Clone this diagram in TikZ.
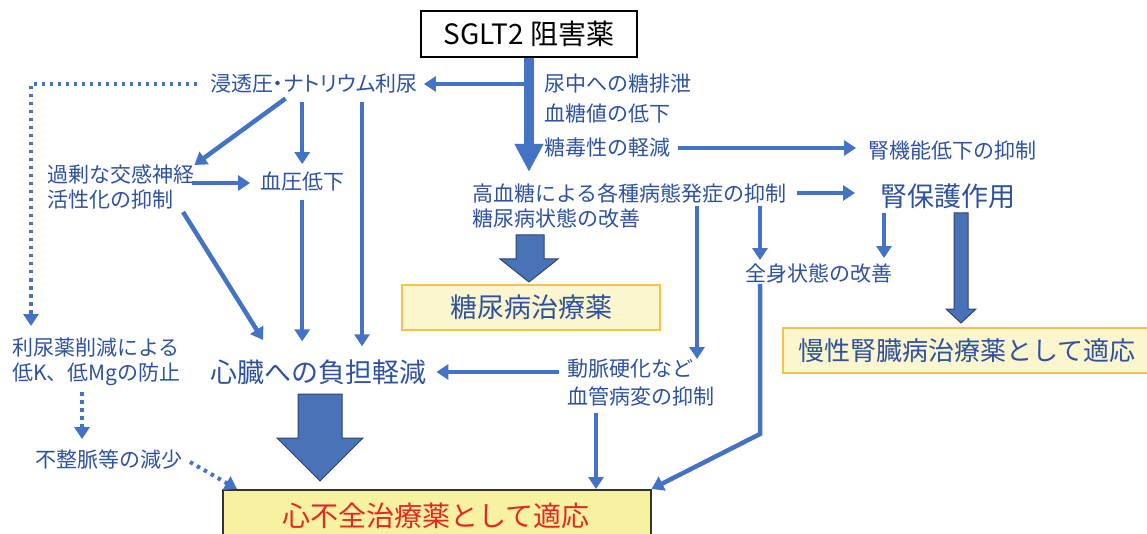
\documentclass[tikz,border=0pt]{standalone}
\usepackage{fontspec}
\setmainfont{Noto Sans CJK JP}
\usetikzlibrary{arrows.meta,calc}
\definecolor{ab}{RGB}{68,114,196}
\definecolor{tb}{RGB}{47,82,160}
\definecolor{bf}{RGB}{74,114,182}
\definecolor{bo}{RGB}{46,68,112}
\definecolor{yl}{RGB}{251,246,206}
\definecolor{ylb}{RGB}{246,194,72}
\definecolor{yh}{RGB}{247,242,162}
\definecolor{rd}{RGB}{230,40,35}
\begin{document}
\begin{tikzpicture}[x=1pt,y=-1pt,
 lbl/.style={inner sep=0pt,text=tb,font=\fontsize{21}{25}\selectfont},
 lblL/.style={inner sep=0pt,text=tb,font=\fontsize{27}{30}\selectfont},
 arr/.style={draw=ab,line width=4.5pt,-{Triangle[width=15pt,length=12pt]}},
 dotarr/.style={draw=ab,line width=4pt,dash pattern=on 3.5pt off 4.5pt,-{Triangle[width=15pt,length=12pt]}},
 blockarr/.style={fill=bf,draw=bo,line width=1pt,line join=miter},
 boxA/.style={fill=yl,draw=ylb,line width=1.2pt,inner sep=0pt,text=tb,font=\fontsize{27}{30}\selectfont},
 boxB/.style={fill=yh,draw=black!80,line width=1.5pt,inner sep=0pt,text=rd,font=\fontsize{28}{32}\selectfont},
]
\fill[white] (0,0) rectangle (1147,534);
\useasboundingbox (0,0) rectangle (1147,534);

% nodes
\node[draw=black,line width=1.5pt,minimum width=216pt,minimum height=46pt,inner sep=0pt,font=\fontsize{28}{30}\selectfont] (sglt) at (529,34) {SGLT2 阻害薬};
\node[lbl,anchor=west,font=\fontsize{21}{25}\selectfont\addfontfeature{RawFeature=+palt}] (osm) at (210,84) {浸透圧・ナトリウム利尿};
\node[lbl,anchor=west] (t1) at (544,84) {尿中への糖排泄};
\node[lbl,anchor=west] (t2) at (544,114) {血糖値の低下};
\node[lbl,anchor=west] (t3) at (544,148) {糖毒性の軽減};
\node[lbl,anchor=west] (kidfn) at (868,151) {腎機能低下の抑制};
\node[lbl,anchor=north west,align=left] (hyper) at (472,183) {高血糖による各種病態発症の抑制\\糖尿病状態の改善};
\node[lblL,anchor=west] (renal) at (880,196) {腎保護作用};
\node[lbl,anchor=west] (whole) at (745,274) {全身状態の改善};
\node[lbl,anchor=north west,align=left] (symp) at (47,165) {過剰な交感神経\\活性化の抑制};
\node[lbl,anchor=west] (bp) at (260,182) {血圧低下};
\node[lblL,anchor=west] (heart) at (210,372) {心臓への負担軽減};
\node[lbl,anchor=north west,align=left,font=\fontsize{21}{28}\selectfont] (athero) at (567,359) {動脈硬化など\\血管病変の抑制};
\node[lbl,anchor=north west,align=left] (diur) at (12,338) {利尿薬削減による\\低K、低Mgの防止};
\node[lbl,anchor=west] (arrh) at (35,459) {不整脈等の減少};

\node[boxA,minimum width=258pt,minimum height=45pt] (diab) at (531,307.5) {糖尿病治療薬};
\node[boxA,font=\fontsize{26}{30}\selectfont,minimum width=368pt,minimum height=45pt] (ckd) at (967,350.5) {慢性腎臓病治療薬として適応};
\node[boxB,minimum width=428pt,minimum height=60pt,anchor=north west] (hf) at (222,489) {};
\node[text=rd,font=\fontsize{28}{32}\selectfont,inner sep=0pt] (hft) at (436,516) {心不全治療薬として適応};

% helper coordinates
\coordinate (br) at (527,84);
\coordinate (x292) at (292,0);
\coordinate (x362) at (362,0);
\coordinate (x697) at (697,0);
\coordinate (x760) at (760,0);
\coordinate (x884) at (884,0);
\coordinate (x596) at (596,0);
\coordinate (x31) at (31,0);
\coordinate (x82) at (82,0);
\coordinate (h1) at (697,206);
\coordinate (h2) at (760,206);
\coordinate (hr) at (797,193);
\coordinate (sa) at (192,183);
\coordinate (sb) at (183,212);
\coordinate (sbt) at (263,340);
\coordinate (bend) at (760,434);
\coordinate (dcorner) at (31,84);
\coordinate (ar1) at (190,462);
\coordinate (ar1t) at (237,489);

% main arrow
\draw[draw=ab,line width=10pt,-{Triangle[width=27pt,length=28pt]},shorten >=11pt] (sglt.south) -- (hyper.north -| sglt.south);
\draw[arr,shorten >=6pt] (br) -- (osm.east);
\draw[arr,shorten <=8pt,shorten >=12pt] (t3.east) -- (t3.east -| kidfn.west);
\draw[arr,shorten >=25pt] (hr) -- (hr -| renal.west);
\draw[arr] (h1) -- (athero.north -| x697);
\draw[arr] (h2) -- ($(whole.north -| x760)+(0,-4)$);
\draw[arr,shorten <=4pt,shorten >=6pt] (renal.south -| x884) -- (whole.north -| x884);
\draw[arr] (whole.south -| x760) -- (bend) -- (hf.north east);
\draw[arr,shorten <=8pt,shorten >=10pt] (athero.west |- heart.east) -- (heart.east);
\draw[arr,shorten <=6pt] (athero.south -| x596) -- (hf.north -| x596);

\draw[arr,shorten <=8pt] (osm.south -| x292) -- (symp.north east);
\draw[arr,shorten <=8pt,shorten >=8pt] (osm.south -| bp.north) -- (bp.north);
\draw[arr,shorten <=8pt,shorten >=13pt] (osm.south -| x362) -- (heart.north -| x362);
\draw[arr,shorten >=10pt] (sa) -- (sa -| bp.west);
\draw[arr] (sb) -- (sbt);
\draw[arr,shorten <=8pt,shorten >=18pt] (bp.south) -- (heart.north -| bp.south);

\draw[dotarr,shorten <=13pt] (osm.west) -- (dcorner) -- ($(diur.north -| x31)+(0,-12)$);
\draw[dotarr,shorten <=6pt,shorten >=10pt] (diur.south -| x82) -- (arrh.north -| x82);
\draw[dotarr] (ar1) -- (ar1t);

% block arrows
\draw[blockarr] (516,235) -- (544,235) -- (544,259) -- (558,259) -- (529,282) -- (500,259) -- (516,259) -- cycle;
\draw[blockarr] (298,394) -- (342,394) -- (342,438) -- (363,438) -- (320,481) -- (277,438) -- (298,438) -- cycle;
\draw[blockarr] (954,213) -- (968,213) -- (968,309) -- (976,309) -- (961,323) -- (946,309) -- (954,309) -- cycle;
\end{tikzpicture}
\end{document}
